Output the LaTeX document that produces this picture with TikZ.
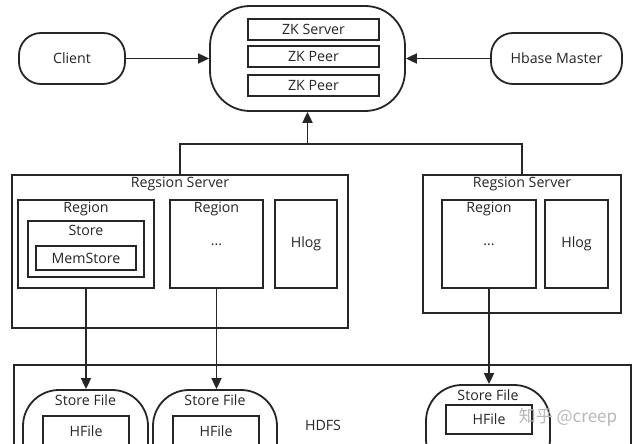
\documentclass[tikz,border=0pt]{standalone}
\usepackage{fontspec}
\setmainfont{Open Sans}
\newfontfamily\cjkfont{Noto Sans CJK SC}
\usetikzlibrary{arrows.meta}
\definecolor{ink}{HTML}{262626}
\tikzset{
  every node/.style={font=\fontsize{14.2}{16}\selectfont, text=ink},
  box/.style={draw=ink, line width=1.8pt, rectangle, inner sep=0pt},
  pill/.style={box, rounded corners=22pt},
  lbl/.style={inner sep=0pt},
  conn/.style={draw=ink, line width=1.8pt},
  arr/.style={conn, -{Triangle[length=11pt,width=10pt]}},
}
\begin{document}
\begin{tikzpicture}[x=1pt,y=-1pt]
\clip (0,0) rectangle (640,444);
\fill[white] (0,0) rectangle (640,444);

% top row
\node[pill, minimum width=106pt, minimum height=51pt] (client) at (72,58.5) {Client};
\node[box, rounded corners=40pt, minimum width=195pt, minimum height=105pt] (zk) at (307.5,58.5) {};
\node[box, minimum width=131pt, minimum height=21pt] (zks) at (313.5,29.5) {ZK Server};
\node[box, minimum width=131pt, minimum height=21pt] (zkp1) at (313.5,56.5) {ZK Peer};
\node[box, minimum width=131pt, minimum height=21pt] (zkp2) at (313.5,85.5) {ZK Peer};
\node[pill, minimum width=131pt, minimum height=51pt] (hm) at (556.5,58.5) {Hbase Master};

\draw[arr] (client.east) -- (zk.west);
\draw[arr] (hm.west) -- (zk.east);

% region servers
\node[box, minimum width=336pt, minimum height=153pt] (rs1) at (180,251.5) {};
\node[lbl] (rs1t) at (180,184) {Regsion Server};
\node[box, minimum width=136pt, minimum height=88pt] (reg1) at (86,244) {};
\node[lbl] (reg1t) at (86,209) {Region};
\node[box, minimum width=116pt, minimum height=56pt] (store) at (86,249) {};
\node[lbl] (storet) at (86,230) {Store};
\node[box, minimum width=100pt, minimum height=24pt] (mem) at (86,258) {MemStore};
\node[box, minimum width=93pt, minimum height=88pt] (reg2) at (216.5,244) {};
\node[lbl] (reg2t) at (216.5,209) {Region};
\node[lbl] (reg2d) at (216.5,245) {...};
\node[box, minimum width=62pt, minimum height=88pt] (hlog1) at (306,244) {Hlog};

\node[box, minimum width=198pt, minimum height=138pt] (rs2) at (522,244) {};
\node[lbl] (rs2t) at (522,184) {Regsion Server};
\node[box, minimum width=94pt, minimum height=88pt] (reg3) at (489,244) {};
\node[lbl] (reg3t) at (489,209) {Region};
\node[lbl] (reg3d) at (489,245) {...};
\node[box, minimum width=63pt, minimum height=88pt] (hlog2) at (576.5,244) {Hlog};

\coordinate (j) at (zk.south |- 0,144);
\draw[conn] (rs1.north) |- (j) -| (rs2.north);
\draw[arr] (j) -- (zk.south);

% HDFS
\node[box, minimum width=617pt, minimum height=100pt] (hdfs) at (322.5,415) {};
\node[lbl] (hdfst) at (323,425) {HDFS};
\node[box, rounded corners=36pt, minimum width=125pt, minimum height=90pt] (sf1) at (85.5,435) {};
\node[lbl] (sf1t) at (85.5,400) {Store File};
\node[box, minimum width=86pt, minimum height=30pt] (hf1) at (86,431) {HFile};
\node[box, rounded corners=36pt, minimum width=124pt, minimum height=90pt] (sf2) at (215,435) {};
\node[lbl] (sf2t) at (215,400) {Store File};
\node[box, minimum width=86pt, minimum height=30pt] (hf2) at (216,431) {HFile};
\node[box, rounded corners=36pt, minimum width=124pt, minimum height=90pt] (sf3) at (488,430) {};
\node[lbl] (sf3t) at (488,395) {Store File};
\node[box, minimum width=86pt, minimum height=29pt] (hf3) at (489,419.5) {HFile};

\draw[arr] (reg1.south) -- (reg1.south |- sf1.north);
\draw[arr] (reg2.south) -- (reg2.south |- sf2.north);
\draw[arr] (reg3.south) -- (reg3.south |- sf3.north);

% watermark
\node[lbl, text=black!28, font=\fontsize{17}{20}\selectfont] (wm) at (568,417) {\cjkfont 知乎\ @creep};
\end{tikzpicture}
\end{document}
